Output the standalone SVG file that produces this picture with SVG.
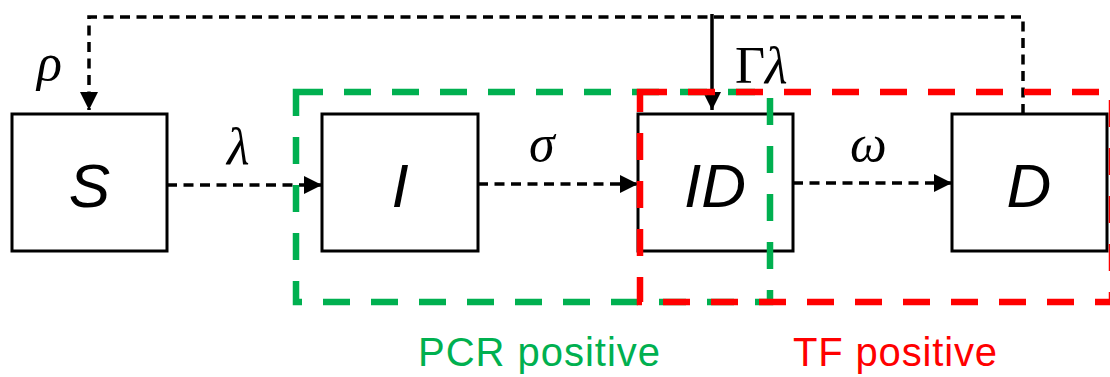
<svg xmlns="http://www.w3.org/2000/svg" width="1110" height="377" viewBox="0 0 1110 377">
<style>
.box{fill:#fff;stroke:#000;stroke-width:3}
.lbl{font-family:"Liberation Sans",Arial,sans-serif;font-style:italic;font-size:62px;text-anchor:middle;fill:#000}
.gk{font-family:"Liberation Serif","Times New Roman",serif;font-style:italic;font-size:52px;fill:#000}
.dash{fill:none;stroke:#000;stroke-width:3.5;stroke-dasharray:10 6.5}
.solid{fill:none;stroke:#000;stroke-width:3.5}
.grp{fill:none;stroke-width:6.5;stroke-dasharray:27 21}
.cap{font-family:"Liberation Sans",Arial,sans-serif;font-size:40px}
</style>
<defs>
<marker id="ah" viewBox="0 0 18 18" refX="18" refY="9" markerWidth="18" markerHeight="18" markerUnits="userSpaceOnUse" orient="auto">
<path d="M0,0 L18,9 L0,18 z" fill="#000"/>
</marker>
</defs>
<g id="node-S"><rect class="box" x="12" y="114" width="155" height="137"/><text class="lbl" x="89.5" y="207">S</text></g>
<g id="node-I"><rect class="box" x="322" y="114" width="156" height="137"/><text class="lbl" x="400" y="207">I</text></g>
<g id="node-ID"><rect class="box" x="638" y="114" width="155" height="137"/><text class="lbl" x="715" y="207">ID</text></g>
<g id="node-D"><rect class="box" x="952" y="114" width="155" height="137"/><text class="lbl" x="1029" y="207">D</text></g>
<g id="connectors">
<path class="dash" d="M167,185 H322" marker-end="url(#ah)"/>
<path class="dash" d="M478,184 H638" marker-end="url(#ah)"/>
<path class="dash" d="M793,183 H952" marker-end="url(#ah)"/>
<path class="dash" d="M1023,114 V17 H89 V110" marker-end="url(#ah)"/>
<path class="solid" d="M712,14 V110" marker-end="url(#ah)"/>
<text class="gk" x="37" y="80">ρ</text>
<text class="gk" x="227" y="164">λ</text>
<text class="gk" x="529" y="161">σ</text>
<text class="gk" x="850" y="161">ω</text>
<text class="gk" x="735" y="83"><tspan font-style="normal">Γ</tspan>λ</text>
</g>
<g id="group-PCR">
<rect class="grp" x="296" y="92" width="474" height="210" stroke="#00B050"/>
<text class="cap" x="418" y="366" fill="#00B050" textLength="242">PCR positive</text>
</g>
<g id="group-TF">
<rect class="grp" x="640" y="92" width="472" height="210" stroke="#FF0000"/>
<text class="cap" x="793" y="366" fill="#FF0000" textLength="204">TF positive</text>
</g>
</svg>
